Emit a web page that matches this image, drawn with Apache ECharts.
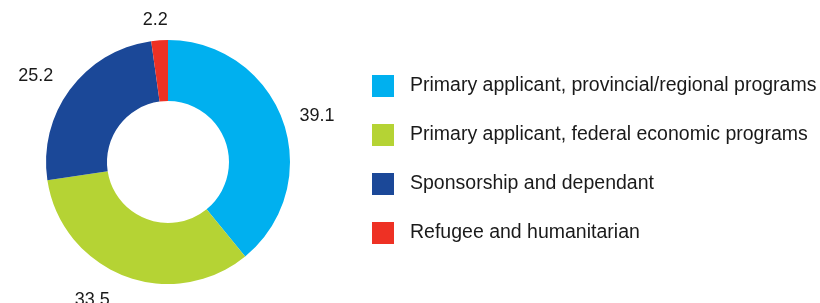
<!DOCTYPE html>
<html>
<head>
<meta charset="utf-8">
<script src="https://cdn.jsdelivr.net/npm/echarts@6/dist/echarts.min.js"></script>
<style>
html,body{margin:0;padding:0;background:#fff;}
#chart{width:820px;height:303px;}
</style>
</head>
<body>
<div id="chart"></div>
<script>
var categories = [
  'Primary applicant, provincial/regional programs',
  'Primary applicant, federal economic programs',
  'Sponsorship and dependant',
  'Refugee and humanitarian'
];
var values = [39.1, 33.5, 25.2, 2.2];
var colors = ['#00b0ef', '#b5d334', '#1b4898', '#ee3124'];

// label nudges (styling only)
var labelNudge = [[3, 6], [-20, -7], [-8, 7], [-2, 13]];

var chart = echarts.init(document.getElementById('chart'), null, {renderer: 'canvas'});
var data = categories.map(function (c, i) {
  return { name: c, value: values[i], itemStyle: { color: colors[i] } };
});
var labelData = categories.map(function (c, i) {
  return { name: c, value: values[i] };
});

chart.setOption({
  animation: false,
  legend: {
    orient: 'vertical',
    left: 367,
    top: 70,
    itemWidth: 22,
    itemHeight: 22,
    itemGap: 27,
    icon: 'rect',
    data: categories,
    textStyle: {
      fontFamily: 'Liberation Sans, Arial, sans-serif',
      fontSize: 19.5,
      color: '#1a1a1a',
      padding: [0, 0, 0, 11]
    }
  },
  series: [
    {
      type: 'pie',
      center: [168, 162],
      radius: [61, 122],
      startAngle: 90,
      clockwise: true,
      label: { show: false },
      labelLine: { show: false },
      data: data
    },
    {
      type: 'pie',
      center: [168, 162],
      radius: [140, 164],
      startAngle: 90,
      clockwise: true,
      silent: true,
      itemStyle: { color: 'rgba(0,0,0,0)' },
      label: {
        show: true,
        position: 'inside',
        formatter: function (p) { return p.value.toFixed(1); },
        fontFamily: 'Liberation Sans, Arial, sans-serif',
        fontSize: 18,
        color: '#1a1a1a'
      },
      labelLine: { show: false },
      labelLayout: function (p) {
        var n = labelNudge[p.dataIndex];
        return { dx: n[0], dy: n[1] };
      },
      data: labelData
    }
  ]
});
</script>
</body>
</html>
